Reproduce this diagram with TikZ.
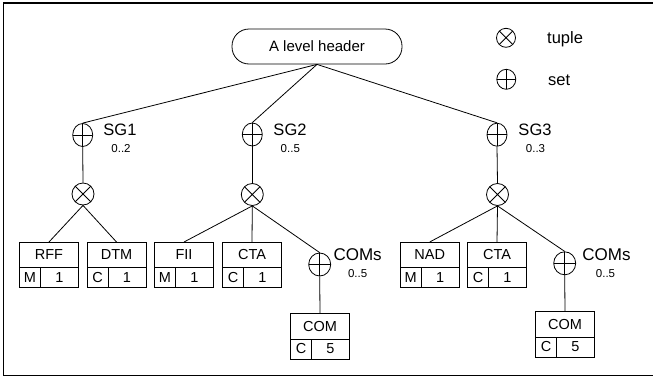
\documentclass[tikz,border=0pt]{standalone}
\usepackage{fontspec}
\setmainfont{Liberation Sans}
\usetikzlibrary{shapes.geometric}
\tikzset{
  ln/.style={line width=0.8pt},
  header/.style={draw, ln, rounded corners=17pt, minimum width=170pt, minimum height=35pt, inner sep=0pt, font=\fontsize{15}{17}\selectfont},
  setnode/.style={draw, ln, ellipse, minimum width=20pt, minimum height=23pt, inner sep=0pt,
     path picture={\draw[ln] (path picture bounding box.north) -- (path picture bounding box.south)
                    (path picture bounding box.west) -- (path picture bounding box.east);}},
  tuplenode/.style={draw, ln, circle, minimum size=22pt, inner sep=0pt,
     path picture={\draw[ln] (path picture bounding box.north west) -- (path picture bounding box.south east)
                    (path picture bounding box.south west) -- (path picture bounding box.north east);}},
  celltop/.style={draw, ln, minimum width=59pt, minimum height=25.5pt, inner sep=0pt, outer sep=0pt, font=\fontsize{14.5}{16}\selectfont},
  cellleft/.style={draw, ln, minimum width=21pt, minimum height=20pt, inner sep=0pt, outer sep=0pt, font=\fontsize{14.5}{16}\selectfont},
  cellright/.style={draw, ln, minimum width=38pt, minimum height=20pt, inner sep=0pt, outer sep=0pt, font=\fontsize{14.5}{16}\selectfont},
  sglabel/.style={anchor=base, inner sep=0pt, font=\fontsize{16.5}{18}\selectfont},
  comslabel/.style={anchor=base, inner sep=0pt, font=\fontsize{17}{19}\selectfont},
  mult/.style={anchor=base, inner sep=0pt, font=\fontsize{11.5}{13}\selectfont},
  legtext/.style={anchor=base west, inner sep=0pt, font=\fontsize{16.5}{18}\selectfont},
  frame/.style={line width=1.6pt}
}
\newcommand\recbox[6]{%
  \node[celltop, anchor=north] (#1) at (#2,#3) {#4};
  \node[cellleft, anchor=north west] (#1-l) at (#1.south west) {#5};
  \node[cellright, anchor=north west] (#1-r) at (#1-l.north east) {#6};
}
\begin{document}
\begin{tikzpicture}[x=1pt,y=-1pt]
\useasboundingbox (0,0) rectangle (653,378);
\draw[frame] (654,2.7) -- (3.5,2.7) -- (3.5,375.3) -- (654,375.3);

% header
\node[header] (hdr) at (317,46.5) {A level header};

% legend
\node[tuplenode, minimum size=19pt] (legT) at (506,37.8) {};
\node[legtext] (legTt) at (547,43) {tuple};
\node[setnode, minimum width=19pt, minimum height=20pt] (legS) at (506.3,79.3) {};
\node[legtext] (legSt) at (548,85.5) {set};

% sets
\node[setnode] (sg1) at (82.7,135) {};
\node[setnode] (sg2) at (252.3,134.5) {};
\node[setnode] (sg3) at (497,134.7) {};
\node[sglabel] (sg1l) at (120,135.5) {SG1};
\node[mult] (sg1m) at (121,152) {0..2};
\node[sglabel] (sg2l) at (290,135.5) {SG2};
\node[mult] (sg2m) at (290.3,152) {0..5};
\node[sglabel] (sg3l) at (535,135.5) {SG3};
\node[mult] (sg3m) at (535.5,152) {0..3};

% tuples
\node[tuplenode] (t1) at (83,194) {};
\node[tuplenode] (t2) at (252.3,194.5) {};
\node[tuplenode] (t3) at (497.5,194.5) {};

% boxes
\recbox{rff}{49}{242}{RFF}{M}{1}
\recbox{dtm}{116.5}{242}{DTM}{C}{1}
\recbox{fii}{184}{242}{FII}{M}{1}
\recbox{cta2}{252}{242}{CTA}{C}{1}
\recbox{nad}{429.7}{242}{NAD}{M}{1}
\recbox{cta3}{497}{242}{CTA}{C}{1}
\recbox{com2}{320}{313.5}{COM}{C}{5}
\recbox{com3}{565}{311.5}{COM}{C}{5}

% COMs sets
\node[setnode, minimum width=22pt] (cs2) at (319.7,264.5) {};
\node[setnode, minimum width=22pt] (cs3) at (564.7,263.3) {};
\node[comslabel] (cs2l) at (357.6,260.5) {COMs};
\node[mult] (cs2m) at (357.6,277.5) {0..5};
\node[comslabel] (cs3l) at (606.5,260) {COMs};
\node[mult] (cs3m) at (605.5,277.5) {0..5};

% connectors
\draw[ln] (hdr.south) -- (sg1.north);
\draw[ln] (hdr.south) -- (sg2.north);
\draw[ln] (hdr.south) -- (sg3.north);
\draw[ln] (sg1.south) -- (t1.north);
\draw[ln] (sg2.south) -- (t2.north);
\draw[ln] (sg3.south) -- (t3.north);
\draw[ln] (t1.south) -- (rff.north);
\draw[ln] (t1.south) -- (dtm.north);
\draw[ln] (t2.south) -- (fii.north);
\draw[ln] (t2.south) -- (cta2.north);
\draw[ln] (t2.south) -- (cs2.north);
\draw[ln] (t3.south) -- (nad.north);
\draw[ln] (t3.south) -- (cta3.north);
\draw[ln] (t3.south) -- (cs3.north);
\draw[ln] (cs2.south) -- (com2.north);
\draw[ln] (cs3.south) -- (com3.north);
\end{tikzpicture}
\end{document}
